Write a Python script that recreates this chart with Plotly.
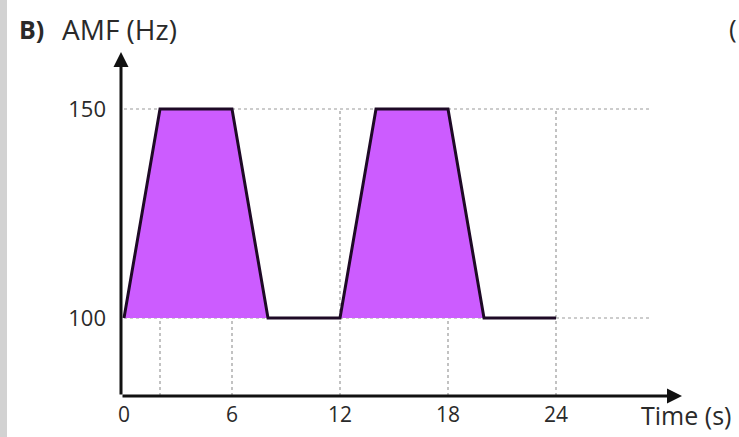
import plotly.graph_objects as go

# ---- data ----
time_s = [0, 2, 6, 8, 12, 14, 18, 20, 24]
amf_hz = [100, 150, 150, 100, 100, 150, 150, 100, 100]
x_ticks = [0, 6, 12, 18, 24]
y_ticks = [100, 150]
vgrid_t = [2, 6, 12, 18, 24]
baseline_t = [0, 24]
baseline_v = [100, 100]

W, H = 739, 437
ML, MR, MT, MB = 121, 59, 52, 41
xr = [(121 - 124) / 18.0, (680 - 124) / 18.0]
yr = [100 - 78 / 4.18, 100 + 266 / 4.18]
pw = W - ML - MR
ph = H - MT - MB

def px(p):
    return (p - ML) / pw

def py(q):
    return (H - MB - q) / ph

FONT = "Open Sans"
TXT = "#2a2a2a"
FILL = "#cc5cff"
LINE = "#1e0a26"
GRID = "#9a9a9a"

fig = go.Figure()

# baseline for fill
fig.add_trace(go.Scatter(x=baseline_t, y=baseline_v, mode="lines",
                         line=dict(width=0, color=FILL), hoverinfo="skip",
                         showlegend=False))
fig.add_trace(go.Scatter(x=time_s, y=amf_hz, mode="lines", fill="tonexty",
                         fillcolor=FILL, line=dict(width=0, color=FILL),
                         hoverinfo="skip", showlegend=False))
fig.add_trace(go.Scatter(x=time_s, y=amf_hz, mode="lines",
                         line=dict(width=3, color=LINE), showlegend=False))

shapes = []
# horizontal dotted grid lines
for v in y_ticks:
    shapes.append(dict(type="line", xref="x", yref="y", x0=0, x1=29.2, y0=v, y1=v,
                       line=dict(color=GRID, width=1.2, dash="dot"), layer="below"))
for t in vgrid_t:
    shapes.append(dict(type="line", xref="x", yref="y", x0=t, x1=t, y0=yr[0], y1=150,
                       line=dict(color=GRID, width=1.2, dash="dot"), layer="below"))
# left gray strip
shapes.append(dict(type="rect", xref="paper", yref="paper", x0=px(0), x1=px(7),
                   y0=py(H), y1=py(0), fillcolor="#d2d2d2", line=dict(width=0),
                   layer="below"))

annotations = []
# axes with arrows
annotations.append(dict(x=31.0, y=yr[0], ax=xr[0], ay=yr[0], xref="x", yref="y",
                        axref="x", ayref="y", text="", showarrow=True, arrowhead=2,
                        arrowsize=1, arrowwidth=3, arrowcolor="#111111", standoff=0))
annotations.append(dict(x=xr[0], y=yr[1], ax=xr[0], ay=yr[0], xref="x", yref="y",
                        axref="x", ayref="y", text="", showarrow=True, arrowhead=2,
                        arrowsize=1, arrowwidth=3, arrowcolor="#111111", standoff=0))
# texts
annotations.append(dict(x=px(17), y=py(29), xref="paper", yref="paper", text="<b>B)</b>",
                        showarrow=False, xanchor="left", yanchor="middle",
                        font=dict(family=FONT, size=25, color=TXT)))
annotations.append(dict(x=px(60), y=py(29), xref="paper", yref="paper", text="AMF (Hz)",
                        showarrow=False, xanchor="left", yanchor="middle",
                        font=dict(family=FONT, size=28, color=TXT)))
annotations.append(dict(x=px(639), y=py(415), xref="paper", yref="paper", text="Time (s)",
                        showarrow=False, xanchor="left", yanchor="middle",
                        font=dict(family=FONT, size=25, color=TXT)))
annotations.append(dict(x=px(727), y=py(28), xref="paper", yref="paper", text="(",
                        showarrow=False, xanchor="left", yanchor="middle",
                        font=dict(family=FONT, size=26, color=TXT)))

fig.update_layout(
    width=W, height=H,
    margin=dict(l=ML, r=MR, t=MT, b=MB, pad=0, autoexpand=False),
    paper_bgcolor="white", plot_bgcolor="white",
    shapes=shapes, annotations=annotations,
    showlegend=False,
    xaxis=dict(range=xr, showgrid=False, zeroline=False, showline=False,
               automargin=False,
               tickvals=x_ticks, ticktext=[str(v) for v in x_ticks], ticks="",
               ticklabelstandoff=4,
               tickfont=dict(family=FONT, size=21, color=TXT), fixedrange=True),
    yaxis=dict(range=yr, showgrid=False, zeroline=False, showline=False,
               automargin=False,
               tickvals=y_ticks, ticktext=[str(v) for v in y_ticks], ticks="",
               ticklabelstandoff=14,
               tickfont=dict(family=FONT, size=22, color=TXT), fixedrange=True),
)

fig.write_html("out.html", config={"displayModeBar": False},
               post_script="document.body.style.margin='0';document.body.style.overflow='hidden';")
